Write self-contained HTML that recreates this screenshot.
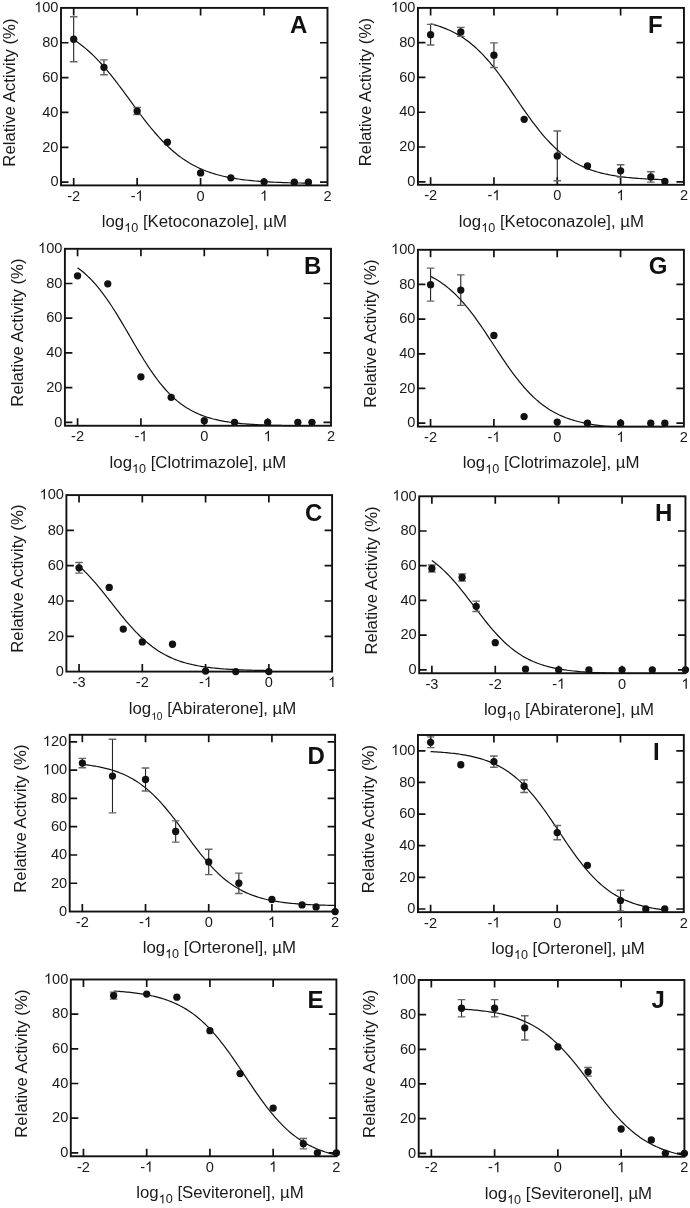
<!DOCTYPE html>
<html><head><meta charset="utf-8"><style>
html,body{margin:0;padding:0;background:#fff;}
svg{display:block;will-change:transform;}
text{font-family:"Liberation Sans",sans-serif;fill:#1a1a1a;}
.t{font-size:14.6px;}
.x{font-size:16.8px;}
.sub{font-size:12.6px;}
.sub2{font-size:10.2px;}
.y{font-size:16.8px;}
.l{font-size:24px;font-weight:bold;fill:#111;}
.g1{fill:#1a1a1a;}
</style></head><body>
<svg width="690" height="1208" viewBox="0 0 690 1208">
<rect x="61" y="7.9" width="266.5" height="177.5" fill="none" stroke="#111" stroke-width="1.9"/>
<path d="M73.69 185.4v-7.5M73.69 7.9v7.5M137.14 185.4v-7.5M137.14 7.9v7.5M200.59 185.4v-7.5M200.59 7.9v7.5M264.05 185.4v-7.5M264.05 7.9v7.5M61 182.15h7.5M327.5 182.15h-7.5M61 147.3h7.5M327.5 147.3h-7.5M61 112.45h7.5M327.5 112.45h-7.5M61 77.6h7.5M327.5 77.6h-7.5M61 42.75h7.5M327.5 42.75h-7.5" stroke="#111" stroke-width="1.7" fill="none"/>
<text x="67.2" y="200.8" class="t">-2</text>
<text x="130.65" y="200.8" class="t">- </text><path d="M763 0H583V1147Q518 1085 412.5 1023Q307 961 223 930V1104Q375 1175 489 1276Q603 1377 650 1466H763Z" transform="matrix(0.00713 0 0 -0.00713 135.51 200.80)" class="g1"/>
<text x="196.54" y="200.8" class="t">0</text>
<text x="259.99" y="200.8" class="t"> </text><path d="M763 0H583V1147Q518 1085 412.5 1023Q307 961 223 930V1104Q375 1175 489 1276Q603 1377 650 1466H763Z" transform="matrix(0.00713 0 0 -0.00713 259.99 200.80)" class="g1"/>
<text x="323.44" y="200.8" class="t">2</text>
<text x="50.38" y="186.38" class="t">0</text>
<text x="42.26" y="151.53" class="t">20</text>
<text x="42.26" y="116.68" class="t">40</text>
<text x="42.26" y="81.83" class="t">60</text>
<text x="42.26" y="46.98" class="t">80</text>
<text x="34.14" y="12.13" class="t"> 00</text><path d="M763 0H583V1147Q518 1085 412.5 1023Q307 961 223 930V1104Q375 1175 489 1276Q603 1377 650 1466H763Z" transform="matrix(0.00713 0 0 -0.00713 34.14 12.13)" class="g1"/>
<polyline points="73.69,39.72 75.65,41 77.6,42.34 79.56,43.74 81.51,45.21 83.47,46.74 85.43,48.34 87.38,50 89.34,51.72 91.29,53.52 93.25,55.38 95.21,57.3 97.16,59.3 99.12,61.35 101.07,63.47 103.03,65.65 104.98,67.89 106.94,70.19 108.9,72.54 110.85,74.94 112.81,77.39 114.76,79.89 116.72,82.42 118.68,85 120.63,87.6 122.59,90.22 124.54,92.87 126.5,95.54 128.46,98.21 130.41,100.89 132.37,103.57 134.32,106.24 136.28,108.9 138.24,111.54 140.19,114.16 142.15,116.75 144.1,119.31 146.06,121.83 148.02,124.31 149.97,126.75 151.93,129.13 153.88,131.47 155.84,133.74 157.79,135.96 159.75,138.12 161.71,140.22 163.66,142.26 165.62,144.23 167.57,146.13 169.53,147.97 171.49,149.74 173.44,151.44 175.4,153.08 177.35,154.66 179.31,156.16 181.27,157.61 183.22,158.99 185.18,160.31 187.13,161.57 189.09,162.78 191.05,163.92 193,165.02 194.96,166.05 196.91,167.04 198.87,167.98 200.83,168.87 202.78,169.71 204.74,170.51 206.69,171.27 208.65,171.98 210.6,172.66 212.56,173.3 214.52,173.91 216.47,174.48 218.43,175.02 220.38,175.53 222.34,176.01 224.3,176.47 226.25,176.9 228.21,177.3 230.16,177.68 232.12,178.04 234.08,178.38 236.03,178.69 237.99,178.99 239.94,179.27 241.9,179.54 243.86,179.79 245.81,180.02 247.77,180.24 249.72,180.45 251.68,180.64 253.63,180.82 255.59,181 257.55,181.16 259.5,181.31 261.46,181.45 263.41,181.59 265.37,181.71 267.33,181.83 269.28,181.94 271.24,182.04 273.19,182.14 275.15,182.23 277.11,182.32 279.06,182.4 281.02,182.47 282.97,182.55 284.93,182.61 286.89,182.67 288.84,182.73 290.8,182.79 292.75,182.84 294.71,182.89 296.67,182.93 298.62,182.98 300.58,183.02 302.53,183.05 304.49,183.09 306.44,183.12 308.4,183.15" fill="none" stroke="#111" stroke-width="1.2"/>
<path d="M73.69 16.79V61.74M103.96 59.91V74.72M137.14 107.57V114.54" stroke="#222" stroke-width="1.1" fill="none"/>
<path d="M69.89 16.79h7.6M69.89 61.74h7.6M100.16 59.91h7.6M100.16 74.72h7.6M133.34 107.57h7.6M133.34 114.54h7.6" stroke="#666" stroke-width="1.4" fill="none"/>
<circle cx="73.69" cy="39.27" r="3.65" fill="#111"/>
<circle cx="103.96" cy="67.32" r="3.65" fill="#111"/>
<circle cx="137.14" cy="111.06" r="3.65" fill="#111"/>
<circle cx="167.41" cy="142.25" r="3.65" fill="#111"/>
<circle cx="200.59" cy="172.91" r="3.65" fill="#111"/>
<circle cx="230.86" cy="177.79" r="3.65" fill="#111"/>
<circle cx="264.05" cy="181.8" r="3.65" fill="#111"/>
<circle cx="294.31" cy="182.15" r="3.65" fill="#111"/>
<circle cx="308.4" cy="182.15" r="3.65" fill="#111"/>
<text x="101.8" y="227" class="x">log<tspan class="sub" dy="5.0"> 0</tspan><tspan dy="-5.0"> [Ketoconazole], µM</tspan></text>
<path d="M763 0H583V1147Q518 1085 412.5 1023Q307 961 223 930V1104Q375 1175 489 1276Q603 1377 650 1466H763Z" transform="matrix(0.00615 0 0 -0.00615 124.22 232.00)" class="g1"/>
<text transform="translate(15,166.7) rotate(-90)" class="y">Relative Activity (%)</text>
<text x="290.1" y="32.8" class="l">A</text>
<rect x="64.9" y="248.8" width="266.1" height="176.95" fill="none" stroke="#111" stroke-width="1.9"/>
<path d="M77.57 425.75v-7.5M77.57 248.8v7.5M140.93 425.75v-7.5M140.93 248.8v7.5M204.29 425.75v-7.5M204.29 248.8v7.5M267.64 425.75v-7.5M267.64 248.8v7.5M64.9 422.28h7.5M331 422.28h-7.5M64.9 387.58h7.5M331 387.58h-7.5M64.9 352.89h7.5M331 352.89h-7.5M64.9 318.19h7.5M331 318.19h-7.5M64.9 283.5h7.5M331 283.5h-7.5" stroke="#111" stroke-width="1.7" fill="none"/>
<text x="71.08" y="441.15" class="t">-2</text>
<text x="134.44" y="441.15" class="t">- </text><path d="M763 0H583V1147Q518 1085 412.5 1023Q307 961 223 930V1104Q375 1175 489 1276Q603 1377 650 1466H763Z" transform="matrix(0.00713 0 0 -0.00713 139.30 441.15)" class="g1"/>
<text x="200.23" y="441.15" class="t">0</text>
<text x="263.58" y="441.15" class="t"> </text><path d="M763 0H583V1147Q518 1085 412.5 1023Q307 961 223 930V1104Q375 1175 489 1276Q603 1377 650 1466H763Z" transform="matrix(0.00713 0 0 -0.00713 263.58 441.15)" class="g1"/>
<text x="326.94" y="441.15" class="t">2</text>
<text x="54.28" y="426.51" class="t">0</text>
<text x="46.16" y="391.81" class="t">20</text>
<text x="46.16" y="357.11" class="t">40</text>
<text x="46.16" y="322.42" class="t">60</text>
<text x="46.16" y="287.72" class="t">80</text>
<text x="38.04" y="253.03" class="t"> 00</text><path d="M763 0H583V1147Q518 1085 412.5 1023Q307 961 223 930V1104Q375 1175 489 1276Q603 1377 650 1466H763Z" transform="matrix(0.00713 0 0 -0.00713 38.04 253.03)" class="g1"/>
<polyline points="77.57,267.72 79.52,269.17 81.48,270.7 83.43,272.32 85.38,274.02 87.34,275.82 89.29,277.71 91.24,279.69 93.2,281.77 95.15,283.95 97.1,286.22 99.05,288.59 101.01,291.06 102.96,293.62 104.91,296.27 106.87,299.01 108.82,301.84 110.77,304.75 112.73,307.74 114.68,310.8 116.63,313.93 118.58,317.11 120.54,320.34 122.49,323.62 124.44,326.93 126.4,330.27 128.35,333.63 130.3,336.99 132.26,340.35 134.21,343.7 136.16,347.02 138.11,350.32 140.07,353.58 142.02,356.79 143.97,359.95 145.93,363.04 147.88,366.07 149.83,369.02 151.79,371.9 153.74,374.69 155.69,377.39 157.64,379.99 159.6,382.51 161.55,384.93 163.5,387.26 165.46,389.48 167.41,391.61 169.36,393.65 171.31,395.59 173.27,397.43 175.22,399.19 177.17,400.85 179.13,402.43 181.08,403.92 183.03,405.33 184.99,406.66 186.94,407.92 188.89,409.1 190.84,410.21 192.8,411.26 194.75,412.24 196.7,413.16 198.66,414.03 200.61,414.84 202.56,415.6 204.52,416.31 206.47,416.97 208.42,417.59 210.37,418.17 212.33,418.72 214.28,419.22 216.23,419.69 218.19,420.14 220.14,420.55 222.09,420.93 224.05,421.29 226,421.62 227.95,421.93 229.9,422.22 231.86,422.48 233.81,422.73 235.76,422.97 237.72,423.18 239.67,423.38 241.62,423.57 243.58,423.74 245.53,423.9 247.48,424.06 249.43,424.19 251.39,424.32 253.34,424.44 255.29,424.56 257.25,424.66 259.2,424.76 261.15,424.85 263.11,424.93 265.06,425.01 267.01,425.08 268.96,425.15 270.92,425.21 272.87,425.27 274.82,425.32 276.78,425.37 278.73,425.41 280.68,425.46 282.63,425.5 284.59,425.53 286.54,425.57 288.49,425.6 290.45,425.63 292.4,425.66 294.35,425.68 296.31,425.7 298.26,425.73 300.21,425.75 302.16,425.75 304.12,425.75 306.07,425.75 308.02,425.75 309.98,425.75 311.93,425.75" fill="none" stroke="#111" stroke-width="1.2"/>
<circle cx="77.57" cy="275.86" r="3.65" fill="#111"/>
<circle cx="107.79" cy="283.84" r="3.65" fill="#111"/>
<circle cx="140.93" cy="376.83" r="3.65" fill="#111"/>
<circle cx="171.15" cy="397.3" r="3.65" fill="#111"/>
<circle cx="204.29" cy="420.72" r="3.65" fill="#111"/>
<circle cx="234.51" cy="422.28" r="3.65" fill="#111"/>
<circle cx="267.64" cy="422.28" r="3.65" fill="#111"/>
<circle cx="297.86" cy="422.28" r="3.65" fill="#111"/>
<circle cx="311.93" cy="422.28" r="3.65" fill="#111"/>
<text x="109.6" y="467.9" class="x">log<tspan class="sub" dy="5.0"> 0</tspan><tspan dy="-5.0"> [Clotrimazole], µM</tspan></text>
<path d="M763 0H583V1147Q518 1085 412.5 1023Q307 961 223 930V1104Q375 1175 489 1276Q603 1377 650 1466H763Z" transform="matrix(0.00615 0 0 -0.00615 132.02 472.90)" class="g1"/>
<text transform="translate(22.9,406.7) rotate(-90)" class="y">Relative Activity (%)</text>
<text x="304.1" y="274.2" class="l">B</text>
<rect x="66.4" y="495.1" width="265.7" height="176.5" fill="none" stroke="#111" stroke-width="1.9"/>
<path d="M79.05 671.6v-7.5M79.05 495.1v7.5M142.31 671.6v-7.5M142.31 495.1v7.5M205.58 671.6v-7.5M205.58 495.1v7.5M268.84 671.6v-7.5M268.84 495.1v7.5M66.4 636.3h7.5M332.1 636.3h-7.5M66.4 601h7.5M332.1 601h-7.5M66.4 565.7h7.5M332.1 565.7h-7.5M66.4 530.4h7.5M332.1 530.4h-7.5" stroke="#111" stroke-width="1.7" fill="none"/>
<text x="72.56" y="687" class="t">-3</text>
<text x="135.82" y="687" class="t">-2</text>
<text x="199.09" y="687" class="t">- </text><path d="M763 0H583V1147Q518 1085 412.5 1023Q307 961 223 930V1104Q375 1175 489 1276Q603 1377 650 1466H763Z" transform="matrix(0.00713 0 0 -0.00713 203.95 687.00)" class="g1"/>
<text x="264.78" y="687" class="t">0</text>
<text x="328.04" y="687" class="t"> </text><path d="M763 0H583V1147Q518 1085 412.5 1023Q307 961 223 930V1104Q375 1175 489 1276Q603 1377 650 1466H763Z" transform="matrix(0.00713 0 0 -0.00713 328.04 687.00)" class="g1"/>
<text x="55.78" y="675.83" class="t">0</text>
<text x="47.66" y="640.53" class="t">20</text>
<text x="47.66" y="605.23" class="t">40</text>
<text x="47.66" y="569.93" class="t">60</text>
<text x="47.66" y="534.63" class="t">80</text>
<text x="39.54" y="499.33" class="t"> 00</text><path d="M763 0H583V1147Q518 1085 412.5 1023Q307 961 223 930V1104Q375 1175 489 1276Q603 1377 650 1466H763Z" transform="matrix(0.00713 0 0 -0.00713 39.54 499.33)" class="g1"/>
<polyline points="79.05,566.05 80.63,567.49 82.22,568.97 83.8,570.51 85.38,572.08 86.96,573.7 88.54,575.36 90.12,577.06 91.7,578.8 93.29,580.58 94.87,582.39 96.45,584.23 98.03,586.11 99.61,588.01 101.19,589.94 102.78,591.89 104.36,593.86 105.94,595.84 107.52,597.84 109.1,599.85 110.68,601.86 112.26,603.87 113.85,605.88 115.43,607.89 117.01,609.89 118.59,611.88 120.17,613.85 121.75,615.8 123.34,617.73 124.92,619.64 126.5,621.52 128.08,623.36 129.66,625.18 131.24,626.96 132.82,628.71 134.41,630.41 135.99,632.08 137.57,633.7 139.15,635.28 140.73,636.82 142.31,638.31 143.9,639.76 145.48,641.16 147.06,642.51 148.64,643.82 150.22,645.08 151.8,646.3 153.39,647.47 154.97,648.6 156.55,649.69 158.13,650.73 159.71,651.72 161.29,652.68 162.87,653.6 164.46,654.47 166.04,655.31 167.62,656.11 169.2,656.88 170.78,657.61 172.36,658.3 173.95,658.96 175.53,659.59 177.11,660.19 178.69,660.77 180.27,661.31 181.85,661.82 183.43,662.31 185.02,662.78 186.6,663.22 188.18,663.64 189.76,664.04 191.34,664.42 192.92,664.77 194.51,665.11 196.09,665.43 197.67,665.74 199.25,666.02 200.83,666.3 202.41,666.55 203.99,666.8 205.58,667.03 207.16,667.25 208.74,667.45 210.32,667.65 211.9,667.83 213.48,668 215.07,668.17 216.65,668.32 218.23,668.47 219.81,668.61 221.39,668.74 222.97,668.86 224.55,668.98 226.14,669.09 227.72,669.19 229.3,669.29 230.88,669.38 232.46,669.47 234.04,669.55 235.63,669.63 237.21,669.7 238.79,669.77 240.37,669.84 241.95,669.9 243.53,669.96 245.11,670.01 246.7,670.07 248.28,670.11 249.86,670.16 251.44,670.2 253.02,670.24 254.6,670.28 256.19,670.32 257.77,670.35 259.35,670.39 260.93,670.42 262.51,670.44 264.09,670.47 265.67,670.5 267.26,670.52 268.84,670.54" fill="none" stroke="#111" stroke-width="1.2"/>
<path d="M79.05 562.52V573.11" stroke="#222" stroke-width="1.1" fill="none"/>
<path d="M75.25 562.52h7.6M75.25 573.11h7.6" stroke="#666" stroke-width="1.4" fill="none"/>
<circle cx="79.05" cy="567.82" r="3.65" fill="#111"/>
<circle cx="109.23" cy="587.41" r="3.65" fill="#111"/>
<circle cx="123.27" cy="629.06" r="3.65" fill="#111"/>
<circle cx="142.31" cy="641.95" r="3.65" fill="#111"/>
<circle cx="172.49" cy="644.24" r="3.65" fill="#111"/>
<circle cx="205.58" cy="671.07" r="3.65" fill="#111"/>
<circle cx="235.75" cy="671.6" r="3.65" fill="#111"/>
<circle cx="268.84" cy="671.6" r="3.65" fill="#111"/>
<text x="128.8" y="713.5" class="x">log<tspan class="sub2" dy="6.3"> 0</tspan><tspan dy="-6.3"> [Abiraterone], µM</tspan></text>
<path d="M763 0H583V1147Q518 1085 412.5 1023Q307 961 223 930V1104Q375 1175 489 1276Q603 1377 650 1466H763Z" transform="matrix(0.00498 0 0 -0.00498 151.22 719.80)" class="g1"/>
<text transform="translate(23.1,652.8) rotate(-90)" class="y">Relative Activity (%)</text>
<text x="305.1" y="520.8" class="l">C</text>
<rect x="69.7" y="734.8" width="265.4" height="176.75" fill="none" stroke="#111" stroke-width="1.9"/>
<path d="M82.34 911.55v-7.5M82.34 734.8v7.5M145.53 911.55v-7.5M145.53 734.8v7.5M208.72 911.55v-7.5M208.72 734.8v7.5M271.91 911.55v-7.5M271.91 734.8v7.5M69.7 883.27h7.5M335.1 883.27h-7.5M69.7 854.99h7.5M335.1 854.99h-7.5M69.7 826.71h7.5M335.1 826.71h-7.5M69.7 798.43h7.5M335.1 798.43h-7.5M69.7 770.15h7.5M335.1 770.15h-7.5M69.7 741.87h7.5M335.1 741.87h-7.5" stroke="#111" stroke-width="1.7" fill="none"/>
<text x="75.85" y="926.95" class="t">-2</text>
<text x="139.04" y="926.95" class="t">- </text><path d="M763 0H583V1147Q518 1085 412.5 1023Q307 961 223 930V1104Q375 1175 489 1276Q603 1377 650 1466H763Z" transform="matrix(0.00713 0 0 -0.00713 143.90 926.95)" class="g1"/>
<text x="204.66" y="926.95" class="t">0</text>
<text x="267.85" y="926.95" class="t"> </text><path d="M763 0H583V1147Q518 1085 412.5 1023Q307 961 223 930V1104Q375 1175 489 1276Q603 1377 650 1466H763Z" transform="matrix(0.00713 0 0 -0.00713 267.85 926.95)" class="g1"/>
<text x="331.04" y="926.95" class="t">2</text>
<text x="59.08" y="915.78" class="t">0</text>
<text x="50.96" y="887.5" class="t">20</text>
<text x="50.96" y="859.22" class="t">40</text>
<text x="50.96" y="830.94" class="t">60</text>
<text x="50.96" y="802.66" class="t">80</text>
<text x="42.84" y="774.38" class="t"> 00</text><path d="M763 0H583V1147Q518 1085 412.5 1023Q307 961 223 930V1104Q375 1175 489 1276Q603 1377 650 1466H763Z" transform="matrix(0.00713 0 0 -0.00713 42.84 774.38)" class="g1"/>
<text x="42.84" y="746.1" class="t"> 20</text><path d="M763 0H583V1147Q518 1085 412.5 1023Q307 961 223 930V1104Q375 1175 489 1276Q603 1377 650 1466H763Z" transform="matrix(0.00713 0 0 -0.00713 42.84 746.10)" class="g1"/>
<polyline points="82.34,764.41 84.44,764.65 86.55,764.9 88.66,765.18 90.76,765.47 92.87,765.79 94.98,766.14 97.08,766.51 99.19,766.91 101.3,767.34 103.4,767.8 105.51,768.3 107.61,768.83 109.72,769.41 111.83,770.02 113.93,770.68 116.04,771.39 118.15,772.15 120.25,772.96 122.36,773.82 124.46,774.75 126.57,775.74 128.68,776.79 130.78,777.91 132.89,779.1 135,780.36 137.1,781.7 139.21,783.12 141.32,784.62 143.42,786.2 145.53,787.87 147.63,789.62 149.74,791.46 151.85,793.39 153.95,795.4 156.06,797.5 158.17,799.69 160.27,801.96 162.38,804.31 164.49,806.74 166.59,809.24 168.7,811.81 170.8,814.44 172.91,817.12 175.02,819.86 177.12,822.64 179.23,825.45 181.34,828.29 183.44,831.14 185.55,834 187.66,836.87 189.76,839.72 191.87,842.55 193.97,845.36 196.08,848.13 198.19,850.85 200.29,853.53 202.4,856.15 204.51,858.7 206.61,861.19 208.72,863.6 210.83,865.94 212.93,868.19 215.04,870.36 217.14,872.44 219.25,874.44 221.36,876.35 223.46,878.17 225.57,879.91 227.68,881.56 229.78,883.12 231.89,884.61 234,886.01 236.1,887.33 238.21,888.58 240.31,889.76 242.42,890.86 244.53,891.9 246.63,892.88 248.74,893.79 250.85,894.64 252.95,895.44 255.06,896.19 257.17,896.89 259.27,897.54 261.38,898.15 263.48,898.71 265.59,899.24 267.7,899.73 269.8,900.18 271.91,900.61 274.02,901 276.12,901.37 278.23,901.71 280.33,902.02 282.44,902.31 284.55,902.59 286.65,902.84 288.76,903.07 290.87,903.29 292.97,903.49 295.08,903.67 297.19,903.84 299.29,904 301.4,904.15 303.5,904.28 305.61,904.41 307.72,904.53 309.82,904.64 311.93,904.74 314.04,904.83 316.14,904.91 318.25,904.99 320.36,905.07 322.46,905.13 324.57,905.2 326.67,905.25 328.78,905.31 330.89,905.36 332.99,905.4 335.1,905.44" fill="none" stroke="#111" stroke-width="1.2"/>
<path d="M82.34 758.41V767.75M112.48 739.32V812.85M145.53 768.03V790.94M175.67 820.91V842.12M208.72 849.19V874.64M238.86 873.09V893.45" stroke="#222" stroke-width="1.1" fill="none"/>
<path d="M78.54 758.41h7.6M78.54 767.75h7.6M108.68 739.32h7.6M108.68 812.85h7.6M141.73 768.03h7.6M141.73 790.94h7.6M171.87 820.91h7.6M171.87 842.12h7.6M204.92 849.19h7.6M204.92 874.64h7.6M235.06 873.09h7.6M235.06 893.45h7.6" stroke="#666" stroke-width="1.4" fill="none"/>
<circle cx="82.34" cy="763.08" r="3.65" fill="#111"/>
<circle cx="112.48" cy="776.09" r="3.65" fill="#111"/>
<circle cx="145.53" cy="779.48" r="3.65" fill="#111"/>
<circle cx="175.67" cy="831.52" r="3.65" fill="#111"/>
<circle cx="208.72" cy="861.92" r="3.65" fill="#111"/>
<circle cx="238.86" cy="883.27" r="3.65" fill="#111"/>
<circle cx="271.91" cy="899.39" r="3.65" fill="#111"/>
<circle cx="302.05" cy="904.9" r="3.65" fill="#111"/>
<circle cx="316.08" cy="906.95" r="3.65" fill="#111"/>
<circle cx="335.1" cy="911.55" r="3.65" fill="#111"/>
<text x="142.7" y="953.2" class="x">log<tspan class="sub" dy="5.0"> 0</tspan><tspan dy="-5.0"> [Orteronel], µM</tspan></text>
<path d="M763 0H583V1147Q518 1085 412.5 1023Q307 961 223 930V1104Q375 1175 489 1276Q603 1377 650 1466H763Z" transform="matrix(0.00615 0 0 -0.00615 165.12 958.20)" class="g1"/>
<text transform="translate(26,892.8) rotate(-90)" class="y">Relative Activity (%)</text>
<text x="307.4" y="763.7" class="l">D</text>
<rect x="70.8" y="979.5" width="265.6" height="176.8" fill="none" stroke="#111" stroke-width="1.9"/>
<path d="M83.45 1156.3v-7.5M83.45 979.5v7.5M146.69 1156.3v-7.5M146.69 979.5v7.5M209.92 1156.3v-7.5M209.92 979.5v7.5M273.16 1156.3v-7.5M273.16 979.5v7.5M70.8 1152.83h7.5M336.4 1152.83h-7.5M70.8 1118.17h7.5M336.4 1118.17h-7.5M70.8 1083.5h7.5M336.4 1083.5h-7.5M70.8 1048.83h7.5M336.4 1048.83h-7.5M70.8 1014.17h7.5M336.4 1014.17h-7.5" stroke="#111" stroke-width="1.7" fill="none"/>
<text x="76.96" y="1171.7" class="t">-2</text>
<text x="140.2" y="1171.7" class="t">- </text><path d="M763 0H583V1147Q518 1085 412.5 1023Q307 961 223 930V1104Q375 1175 489 1276Q603 1377 650 1466H763Z" transform="matrix(0.00713 0 0 -0.00713 145.06 1171.70)" class="g1"/>
<text x="205.86" y="1171.7" class="t">0</text>
<text x="269.1" y="1171.7" class="t"> </text><path d="M763 0H583V1147Q518 1085 412.5 1023Q307 961 223 930V1104Q375 1175 489 1276Q603 1377 650 1466H763Z" transform="matrix(0.00713 0 0 -0.00713 269.10 1171.70)" class="g1"/>
<text x="332.34" y="1171.7" class="t">2</text>
<text x="60.18" y="1157.06" class="t">0</text>
<text x="52.06" y="1122.39" class="t">20</text>
<text x="52.06" y="1087.73" class="t">40</text>
<text x="52.06" y="1053.06" class="t">60</text>
<text x="52.06" y="1018.39" class="t">80</text>
<text x="43.94" y="983.73" class="t"> 00</text><path d="M763 0H583V1147Q518 1085 412.5 1023Q307 961 223 930V1104Q375 1175 489 1276Q603 1377 650 1466H763Z" transform="matrix(0.00713 0 0 -0.00713 43.94 983.73)" class="g1"/>
<polyline points="113.61,991.02 115.47,991.14 117.33,991.26 119.18,991.4 121.04,991.54 122.9,991.69 124.75,991.86 126.61,992.03 128.46,992.21 130.32,992.41 132.18,992.62 134.03,992.84 135.89,993.08 137.75,993.33 139.6,993.59 141.46,993.88 143.32,994.18 145.17,994.5 147.03,994.84 148.89,995.2 150.74,995.58 152.6,995.99 154.46,996.42 156.31,996.88 158.17,997.37 160.03,997.88 161.88,998.43 163.74,999.01 165.6,999.62 167.45,1000.27 169.31,1000.96 171.17,1001.68 173.02,1002.45 174.88,1003.26 176.74,1004.11 178.59,1005.01 180.45,1005.96 182.31,1006.96 184.16,1008.02 186.02,1009.12 187.87,1010.29 189.73,1011.51 191.59,1012.79 193.44,1014.13 195.3,1015.54 197.16,1017.01 199.01,1018.55 200.87,1020.15 202.73,1021.82 204.58,1023.56 206.44,1025.36 208.3,1027.24 210.15,1029.19 212.01,1031.2 213.87,1033.28 215.72,1035.43 217.58,1037.64 219.44,1039.92 221.29,1042.26 223.15,1044.66 225.01,1047.11 226.86,1049.62 228.72,1052.17 230.58,1054.77 232.43,1057.41 234.29,1060.09 236.15,1062.8 238,1065.53 239.86,1068.28 241.72,1071.05 243.57,1073.83 245.43,1076.61 247.29,1079.39 249.14,1082.16 251,1084.92 252.85,1087.66 254.71,1090.37 256.57,1093.06 258.42,1095.71 260.28,1098.32 262.14,1100.88 263.99,1103.4 265.85,1105.87 267.71,1108.28 269.56,1110.63 271.42,1112.92 273.28,1115.15 275.13,1117.32 276.99,1119.42 278.85,1121.45 280.7,1123.41 282.56,1125.3 284.42,1127.13 286.27,1128.88 288.13,1130.57 289.99,1132.19 291.84,1133.74 293.7,1135.22 295.56,1136.64 297.41,1138 299.27,1139.3 301.13,1140.53 302.98,1141.71 304.84,1142.83 306.7,1143.9 308.55,1144.91 310.41,1145.87 312.26,1146.79 314.12,1147.65 315.98,1148.47 317.83,1149.25 319.69,1149.98 321.55,1150.68 323.4,1151.33 325.26,1151.96 327.12,1152.54 328.97,1153.1 330.83,1153.62 332.69,1154.11 334.54,1154.58 336.4,1155.02" fill="none" stroke="#111" stroke-width="1.2"/>
<path d="M113.61 992.15V999.09M303.33 1138.45V1148.85" stroke="#222" stroke-width="1.1" fill="none"/>
<path d="M109.81 992.15h7.6M109.81 999.09h7.6M299.53 1138.45h7.6M299.53 1148.85h7.6" stroke="#666" stroke-width="1.4" fill="none"/>
<circle cx="113.61" cy="995.62" r="3.65" fill="#111"/>
<circle cx="146.69" cy="994.06" r="3.65" fill="#111"/>
<circle cx="176.85" cy="997.18" r="3.65" fill="#111"/>
<circle cx="209.92" cy="1030.63" r="3.65" fill="#111"/>
<circle cx="240.09" cy="1073.62" r="3.65" fill="#111"/>
<circle cx="273.16" cy="1108.11" r="3.65" fill="#111"/>
<circle cx="303.33" cy="1143.65" r="3.65" fill="#111"/>
<circle cx="317.37" cy="1152.83" r="3.65" fill="#111"/>
<circle cx="336.4" cy="1152.83" r="3.65" fill="#111"/>
<text x="136.3" y="1198.4" class="x">log<tspan class="sub" dy="5.0"> 0</tspan><tspan dy="-5.0"> [Seviteronel], µM</tspan></text>
<path d="M763 0H583V1147Q518 1085 412.5 1023Q307 961 223 930V1104Q375 1175 489 1276Q603 1377 650 1466H763Z" transform="matrix(0.00615 0 0 -0.00615 158.72 1203.40)" class="g1"/>
<text transform="translate(27,1137.8) rotate(-90)" class="y">Relative Activity (%)</text>
<text x="307.6" y="1008.3" class="l">E</text>
<rect x="417.95" y="7.9" width="266" height="176.9" fill="none" stroke="#111" stroke-width="1.9"/>
<path d="M430.62 184.8v-7.5M430.62 7.9v7.5M493.95 184.8v-7.5M493.95 7.9v7.5M557.28 184.8v-7.5M557.28 7.9v7.5M620.62 184.8v-7.5M620.62 7.9v7.5M417.95 181.8h7.5M683.95 181.8h-7.5M417.95 147.02h7.5M683.95 147.02h-7.5M417.95 112.24h7.5M683.95 112.24h-7.5M417.95 77.46h7.5M683.95 77.46h-7.5M417.95 42.68h7.5M683.95 42.68h-7.5" stroke="#111" stroke-width="1.7" fill="none"/>
<text x="424.13" y="200.2" class="t">-2</text>
<text x="487.46" y="200.2" class="t">- </text><path d="M763 0H583V1147Q518 1085 412.5 1023Q307 961 223 930V1104Q375 1175 489 1276Q603 1377 650 1466H763Z" transform="matrix(0.00713 0 0 -0.00713 492.32 200.20)" class="g1"/>
<text x="553.22" y="200.2" class="t">0</text>
<text x="616.56" y="200.2" class="t"> </text><path d="M763 0H583V1147Q518 1085 412.5 1023Q307 961 223 930V1104Q375 1175 489 1276Q603 1377 650 1466H763Z" transform="matrix(0.00713 0 0 -0.00713 616.56 200.20)" class="g1"/>
<text x="679.89" y="200.2" class="t">2</text>
<text x="407.33" y="186.03" class="t">0</text>
<text x="399.21" y="151.25" class="t">20</text>
<text x="399.21" y="116.47" class="t">40</text>
<text x="399.21" y="81.69" class="t">60</text>
<text x="399.21" y="46.91" class="t">80</text>
<text x="391.09" y="12.13" class="t"> 00</text><path d="M763 0H583V1147Q518 1085 412.5 1023Q307 961 223 930V1104Q375 1175 489 1276Q603 1377 650 1466H763Z" transform="matrix(0.00713 0 0 -0.00713 391.09 12.13)" class="g1"/>
<polyline points="430.62,23.76 432.57,24.26 434.52,24.8 436.47,25.38 438.43,25.99 440.38,26.64 442.33,27.34 444.28,28.07 446.23,28.85 448.19,29.68 450.14,30.56 452.09,31.49 454.04,32.48 456,33.52 457.95,34.62 459.9,35.78 461.85,37.01 463.8,38.3 465.76,39.66 467.71,41.09 469.66,42.59 471.61,44.16 473.57,45.81 475.52,47.53 477.47,49.33 479.42,51.21 481.37,53.16 483.33,55.19 485.28,57.3 487.23,59.48 489.18,61.73 491.14,64.06 493.09,66.45 495.04,68.91 496.99,71.43 498.95,74.01 500.9,76.65 502.85,79.33 504.8,82.06 506.75,84.83 508.71,87.63 510.66,90.45 512.61,93.3 514.56,96.15 516.52,99.01 518.47,101.87 520.42,104.73 522.37,107.56 524.32,110.38 526.28,113.16 528.23,115.92 530.18,118.63 532.13,121.29 534.09,123.91 536.04,126.46 537.99,128.96 539.94,131.39 541.89,133.76 543.85,136.06 545.8,138.28 547.75,140.43 549.7,142.51 551.66,144.5 553.61,146.43 555.56,148.27 557.51,150.04 559.46,151.73 561.42,153.35 563.37,154.89 565.32,156.36 567.27,157.76 569.23,159.09 571.18,160.36 573.13,161.56 575.08,162.7 577.04,163.77 578.99,164.79 580.94,165.75 582.89,166.66 584.84,167.52 586.8,168.33 588.75,169.09 590.7,169.81 592.65,170.48 594.61,171.12 596.56,171.72 598.51,172.28 600.46,172.8 602.41,173.3 604.37,173.76 606.32,174.2 608.27,174.61 610.22,174.99 612.18,175.35 614.13,175.68 616.08,176 618.03,176.29 619.98,176.57 621.94,176.83 623.89,177.07 625.84,177.29 627.79,177.5 629.75,177.7 631.7,177.89 633.65,178.06 635.6,178.22 637.55,178.37 639.51,178.51 641.46,178.64 643.41,178.76 645.36,178.88 647.32,178.99 649.27,179.09 651.22,179.18 653.17,179.27 655.13,179.35 657.08,179.42 659.03,179.49 660.98,179.56 662.93,179.62 664.89,179.68" fill="none" stroke="#111" stroke-width="1.2"/>
<path d="M430.62 24.33V45.03M460.83 27.38V36.42M493.95 42.85V67.55M557.28 131.02V180.76M620.62 164.76V176.93M650.83 171.71V182.15" stroke="#222" stroke-width="1.1" fill="none"/>
<path d="M426.82 24.33h7.6M426.82 45.03h7.6M457.03 27.38h7.6M457.03 36.42h7.6M490.15 42.85h7.6M490.15 67.55h7.6M553.48 131.02h7.6M553.48 180.76h7.6M616.82 164.76h7.6M616.82 176.93h7.6M647.03 171.71h7.6M647.03 182.15h7.6" stroke="#666" stroke-width="1.4" fill="none"/>
<circle cx="430.62" cy="34.68" r="3.65" fill="#111"/>
<circle cx="460.83" cy="31.9" r="3.65" fill="#111"/>
<circle cx="493.95" cy="55.2" r="3.65" fill="#111"/>
<circle cx="524.16" cy="119.37" r="3.65" fill="#111"/>
<circle cx="557.28" cy="155.89" r="3.65" fill="#111"/>
<circle cx="587.49" cy="165.98" r="3.65" fill="#111"/>
<circle cx="620.62" cy="170.84" r="3.65" fill="#111"/>
<circle cx="650.83" cy="176.93" r="3.65" fill="#111"/>
<circle cx="664.89" cy="181.45" r="3.65" fill="#111"/>
<text x="458.8" y="227" class="x">log<tspan class="sub" dy="5.0"> 0</tspan><tspan dy="-5.0"> [Ketoconazole], µM</tspan></text>
<path d="M763 0H583V1147Q518 1085 412.5 1023Q307 961 223 930V1104Q375 1175 489 1276Q603 1377 650 1466H763Z" transform="matrix(0.00615 0 0 -0.00615 481.22 232.00)" class="g1"/>
<text transform="translate(371,166.3) rotate(-90)" class="y">Relative Activity (%)</text>
<text x="648" y="33" class="l">F</text>
<rect x="417.9" y="249.8" width="266" height="176.8" fill="none" stroke="#111" stroke-width="1.9"/>
<path d="M430.57 426.6v-7.5M430.57 249.8v7.5M493.9 426.6v-7.5M493.9 249.8v7.5M557.23 426.6v-7.5M557.23 249.8v7.5M620.57 426.6v-7.5M620.57 249.8v7.5M417.9 423.13h7.5M683.9 423.13h-7.5M417.9 388.47h7.5M683.9 388.47h-7.5M417.9 353.8h7.5M683.9 353.8h-7.5M417.9 319.13h7.5M683.9 319.13h-7.5M417.9 284.47h7.5M683.9 284.47h-7.5" stroke="#111" stroke-width="1.7" fill="none"/>
<text x="424.08" y="442" class="t">-2</text>
<text x="487.41" y="442" class="t">- </text><path d="M763 0H583V1147Q518 1085 412.5 1023Q307 961 223 930V1104Q375 1175 489 1276Q603 1377 650 1466H763Z" transform="matrix(0.00713 0 0 -0.00713 492.27 442.00)" class="g1"/>
<text x="553.17" y="442" class="t">0</text>
<text x="616.51" y="442" class="t"> </text><path d="M763 0H583V1147Q518 1085 412.5 1023Q307 961 223 930V1104Q375 1175 489 1276Q603 1377 650 1466H763Z" transform="matrix(0.00713 0 0 -0.00713 616.51 442.00)" class="g1"/>
<text x="679.84" y="442" class="t">2</text>
<text x="407.28" y="427.36" class="t">0</text>
<text x="399.16" y="392.69" class="t">20</text>
<text x="399.16" y="358.03" class="t">40</text>
<text x="399.16" y="323.36" class="t">60</text>
<text x="399.16" y="288.69" class="t">80</text>
<text x="391.04" y="254.03" class="t"> 00</text><path d="M763 0H583V1147Q518 1085 412.5 1023Q307 961 223 930V1104Q375 1175 489 1276Q603 1377 650 1466H763Z" transform="matrix(0.00713 0 0 -0.00713 391.04 254.03)" class="g1"/>
<polyline points="430.57,276.37 432.52,277.38 434.47,278.46 436.42,279.6 438.38,280.8 440.33,282.08 442.28,283.42 444.23,284.83 446.18,286.32 448.14,287.88 450.09,289.52 452.04,291.24 453.99,293.04 455.95,294.93 457.9,296.89 459.85,298.93 461.8,301.06 463.75,303.27 465.71,305.55 467.66,307.92 469.61,310.36 471.56,312.87 473.52,315.46 475.47,318.1 477.42,320.81 479.37,323.58 481.32,326.4 483.28,329.26 485.23,332.16 487.18,335.09 489.13,338.05 491.09,341.02 493.04,344 494.99,346.99 496.94,349.97 498.9,352.94 500.85,355.89 502.8,358.81 504.75,361.7 506.7,364.55 508.66,367.35 510.61,370.1 512.56,372.79 514.51,375.42 516.47,377.98 518.42,380.47 520.37,382.89 522.32,385.23 524.27,387.49 526.23,389.68 528.18,391.78 530.13,393.8 532.08,395.73 534.04,397.59 535.99,399.37 537.94,401.06 539.89,402.68 541.84,404.22 543.8,405.68 545.75,407.07 547.7,408.39 549.65,409.64 551.61,410.83 553.56,411.95 555.51,413 557.46,414 559.41,414.94 561.37,415.83 563.32,416.67 565.27,417.45 567.22,418.19 569.18,418.89 571.13,419.54 573.08,420.15 575.03,420.73 576.99,421.27 578.94,421.77 580.89,422.25 582.84,422.69 584.79,423.11 586.75,423.5 588.7,423.86 590.65,424.2 592.6,424.52 594.56,424.82 596.51,425.09 598.46,425.35 600.41,425.6 602.36,425.82 604.32,426.03 606.27,426.23 608.22,426.42 610.17,426.59 612.13,426.6 614.08,426.6 616.03,426.6 617.98,426.6 619.93,426.6 621.89,426.6 623.84,426.6 625.79,426.6 627.74,426.6 629.7,426.6 631.65,426.6 633.6,426.6 635.55,426.6 637.5,426.6 639.46,426.6 641.41,426.6 643.36,426.6 645.31,426.6 647.27,426.6 649.22,426.6 651.17,426.6 653.12,426.6 655.08,426.6 657.03,426.6 658.98,426.6 660.93,426.6 662.88,426.6 664.84,426.6" fill="none" stroke="#111" stroke-width="1.2"/>
<path d="M430.57 268.17V301.11M460.78 274.85V305.35" stroke="#222" stroke-width="1.1" fill="none"/>
<path d="M426.77 268.17h7.6M426.77 301.11h7.6M456.98 274.85h7.6M456.98 305.35h7.6" stroke="#666" stroke-width="1.4" fill="none"/>
<circle cx="430.57" cy="284.64" r="3.65" fill="#111"/>
<circle cx="460.78" cy="290.1" r="3.65" fill="#111"/>
<circle cx="493.9" cy="335.43" r="3.65" fill="#111"/>
<circle cx="524.11" cy="416.55" r="3.65" fill="#111"/>
<circle cx="557.23" cy="422.09" r="3.65" fill="#111"/>
<circle cx="587.44" cy="423.13" r="3.65" fill="#111"/>
<circle cx="620.57" cy="423.13" r="3.65" fill="#111"/>
<circle cx="650.78" cy="423.13" r="3.65" fill="#111"/>
<circle cx="664.84" cy="423.13" r="3.65" fill="#111"/>
<text x="462.8" y="468.4" class="x">log<tspan class="sub" dy="5.0"> 0</tspan><tspan dy="-5.0"> [Clotrimazole], µM</tspan></text>
<path d="M763 0H583V1147Q518 1085 412.5 1023Q307 961 223 930V1104Q375 1175 489 1276Q603 1377 650 1466H763Z" transform="matrix(0.00615 0 0 -0.00615 485.22 473.40)" class="g1"/>
<text transform="translate(375.9,407.8) rotate(-90)" class="y">Relative Activity (%)</text>
<text x="648.7" y="274.2" class="l">G</text>
<rect x="419.2" y="496.3" width="266.25" height="176.95" fill="none" stroke="#111" stroke-width="1.9"/>
<path d="M431.88 673.25v-7.5M431.88 496.3v7.5M495.27 673.25v-7.5M495.27 496.3v7.5M558.66 673.25v-7.5M558.66 496.3v7.5M622.06 673.25v-7.5M622.06 496.3v7.5M419.2 669.78h7.5M685.45 669.78h-7.5M419.2 635.08h7.5M685.45 635.08h-7.5M419.2 600.39h7.5M685.45 600.39h-7.5M419.2 565.69h7.5M685.45 565.69h-7.5M419.2 531h7.5M685.45 531h-7.5" stroke="#111" stroke-width="1.7" fill="none"/>
<text x="425.39" y="688.65" class="t">-3</text>
<text x="488.78" y="688.65" class="t">-2</text>
<text x="552.17" y="688.65" class="t">- </text><path d="M763 0H583V1147Q518 1085 412.5 1023Q307 961 223 930V1104Q375 1175 489 1276Q603 1377 650 1466H763Z" transform="matrix(0.00713 0 0 -0.00713 557.04 688.65)" class="g1"/>
<text x="618" y="688.65" class="t">0</text>
<text x="681.39" y="688.65" class="t"> </text><path d="M763 0H583V1147Q518 1085 412.5 1023Q307 961 223 930V1104Q375 1175 489 1276Q603 1377 650 1466H763Z" transform="matrix(0.00713 0 0 -0.00713 681.39 688.65)" class="g1"/>
<text x="408.58" y="674.01" class="t">0</text>
<text x="400.46" y="639.31" class="t">20</text>
<text x="400.46" y="604.61" class="t">40</text>
<text x="400.46" y="569.92" class="t">60</text>
<text x="400.46" y="535.22" class="t">80</text>
<text x="392.34" y="500.53" class="t"> 00</text><path d="M763 0H583V1147Q518 1085 412.5 1023Q307 961 223 930V1104Q375 1175 489 1276Q603 1377 650 1466H763Z" transform="matrix(0.00713 0 0 -0.00713 392.34 500.53)" class="g1"/>
<polyline points="431.88,560.46 433.99,562.03 436.1,563.68 438.22,565.42 440.33,567.24 442.44,569.16 444.56,571.16 446.67,573.24 448.78,575.42 450.9,577.67 453.01,580 455.12,582.41 457.24,584.89 459.35,587.43 461.46,590.03 463.57,592.68 465.69,595.38 467.8,598.11 469.91,600.86 472.03,603.63 474.14,606.42 476.25,609.19 478.37,611.96 480.48,614.71 482.59,617.43 484.71,620.12 486.82,622.75 488.93,625.34 491.05,627.86 493.16,630.32 495.27,632.71 497.38,635.02 499.5,637.25 501.61,639.4 503.72,641.46 505.84,643.44 507.95,645.33 510.06,647.13 512.18,648.85 514.29,650.47 516.4,652.02 518.52,653.47 520.63,654.85 522.74,656.15 524.85,657.37 526.97,658.52 529.08,659.59 531.19,660.6 533.31,661.55 535.42,662.43 537.53,663.25 539.65,664.02 541.76,664.74 543.87,665.41 545.99,666.03 548.1,666.61 550.21,667.15 552.32,667.64 554.44,668.11 556.55,668.54 558.66,668.93 560.78,669.3 562.89,669.64 565,669.96 567.12,670.25 569.23,670.52 571.34,670.77 573.46,671.01 575.57,671.22 577.68,671.42 579.8,671.6 581.91,671.77 584.02,671.92 586.13,672.07 588.25,672.2 590.36,672.32 592.47,672.44 594.59,672.54 596.7,672.64 598.81,672.72 600.93,672.81 603.04,672.88 605.15,672.95 607.27,673.02 609.38,673.08 611.49,673.13 613.6,673.18 615.72,673.23 617.83,673.25 619.94,673.25 622.06,673.25 624.17,673.25 626.28,673.25 628.4,673.25 630.51,673.25 632.62,673.25 634.74,673.25 636.85,673.25 638.96,673.25 641.07,673.25 643.19,673.25 645.3,673.25 647.41,673.25 649.53,673.25 651.64,673.25 653.75,673.25 655.87,673.25 657.98,673.25 660.09,673.25 662.21,673.25 664.32,673.25 666.43,673.25 668.55,673.25 670.66,673.25 672.77,673.25 674.88,673.25 677,673.25 679.11,673.25 681.22,673.25 683.34,673.25 685.45,673.25" fill="none" stroke="#111" stroke-width="1.2"/>
<path d="M431.88 565V571.94M462.12 574.02V580.96M476.19 601.08V611.49" stroke="#222" stroke-width="1.1" fill="none"/>
<path d="M428.08 565h7.6M428.08 571.94h7.6M458.32 574.02h7.6M458.32 580.96h7.6M472.39 601.08h7.6M472.39 611.49h7.6" stroke="#666" stroke-width="1.4" fill="none"/>
<circle cx="431.88" cy="568.47" r="3.65" fill="#111"/>
<circle cx="462.12" cy="577.49" r="3.65" fill="#111"/>
<circle cx="476.19" cy="606.29" r="3.65" fill="#111"/>
<circle cx="495.27" cy="642.72" r="3.65" fill="#111"/>
<circle cx="525.51" cy="669.09" r="3.65" fill="#111"/>
<circle cx="558.66" cy="669.78" r="3.65" fill="#111"/>
<circle cx="588.9" cy="669.78" r="3.65" fill="#111"/>
<circle cx="622.06" cy="669.78" r="3.65" fill="#111"/>
<circle cx="652.3" cy="669.78" r="3.65" fill="#111"/>
<circle cx="685.45" cy="669.78" r="3.65" fill="#111"/>
<text x="483.9" y="715.4" class="x">log<tspan class="sub" dy="5.0"> 0</tspan><tspan dy="-5.0"> [Abiraterone], µM</tspan></text>
<path d="M763 0H583V1147Q518 1085 412.5 1023Q307 961 223 930V1104Q375 1175 489 1276Q603 1377 650 1466H763Z" transform="matrix(0.00615 0 0 -0.00615 506.32 720.40)" class="g1"/>
<text transform="translate(376.8,654.6) rotate(-90)" class="y">Relative Activity (%)</text>
<text x="655" y="520.9" class="l">H</text>
<rect x="417.95" y="735" width="265.85" height="177.15" fill="none" stroke="#111" stroke-width="1.9"/>
<path d="M430.61 912.15v-7.5M430.61 735v7.5M493.91 912.15v-7.5M493.91 735v7.5M557.21 912.15v-7.5M557.21 735v7.5M620.5 912.15v-7.5M620.5 735v7.5M417.95 908.99h7.5M683.8 908.99h-7.5M417.95 877.35h7.5M683.8 877.35h-7.5M417.95 845.72h7.5M683.8 845.72h-7.5M417.95 814.08h7.5M683.8 814.08h-7.5M417.95 782.45h7.5M683.8 782.45h-7.5M417.95 750.82h7.5M683.8 750.82h-7.5" stroke="#111" stroke-width="1.7" fill="none"/>
<text x="424.12" y="927.55" class="t">-2</text>
<text x="487.42" y="927.55" class="t">- </text><path d="M763 0H583V1147Q518 1085 412.5 1023Q307 961 223 930V1104Q375 1175 489 1276Q603 1377 650 1466H763Z" transform="matrix(0.00713 0 0 -0.00713 492.28 927.55)" class="g1"/>
<text x="553.15" y="927.55" class="t">0</text>
<text x="616.44" y="927.55" class="t"> </text><path d="M763 0H583V1147Q518 1085 412.5 1023Q307 961 223 930V1104Q375 1175 489 1276Q603 1377 650 1466H763Z" transform="matrix(0.00713 0 0 -0.00713 616.44 927.55)" class="g1"/>
<text x="679.74" y="927.55" class="t">2</text>
<text x="407.33" y="913.21" class="t">0</text>
<text x="399.21" y="881.58" class="t">20</text>
<text x="399.21" y="849.95" class="t">40</text>
<text x="399.21" y="818.31" class="t">60</text>
<text x="399.21" y="786.68" class="t">80</text>
<text x="391.09" y="755.04" class="t"> 00</text><path d="M763 0H583V1147Q518 1085 412.5 1023Q307 961 223 930V1104Q375 1175 489 1276Q603 1377 650 1466H763Z" transform="matrix(0.00713 0 0 -0.00713 391.09 755.04)" class="g1"/>
<polyline points="430.61,751.57 432.56,751.68 434.51,751.79 436.46,751.91 438.41,752.04 440.37,752.18 442.32,752.33 444.27,752.49 446.22,752.66 448.17,752.84 450.12,753.04 452.07,753.25 454.02,753.47 455.97,753.72 457.93,753.97 459.88,754.25 461.83,754.55 463.78,754.87 465.73,755.21 467.68,755.57 469.63,755.96 471.58,756.38 473.54,756.82 475.49,757.3 477.44,757.8 479.39,758.34 481.34,758.92 483.29,759.54 485.24,760.2 487.19,760.89 489.14,761.64 491.1,762.43 493.05,763.27 495,764.17 496.95,765.12 498.9,766.12 500.85,767.19 502.8,768.32 504.75,769.51 506.7,770.77 508.66,772.11 510.61,773.51 512.56,774.99 514.51,776.54 516.46,778.17 518.41,779.88 520.36,781.67 522.31,783.54 524.26,785.49 526.22,787.52 528.17,789.63 530.12,791.83 532.07,794.1 534.02,796.44 535.97,798.87 537.92,801.36 539.87,803.92 541.83,806.54 543.78,809.23 545.73,811.96 547.68,814.75 549.63,817.58 551.58,820.44 553.53,823.33 555.48,826.24 557.43,829.17 559.39,832.1 561.34,835.03 563.29,837.95 565.24,840.86 567.19,843.74 569.14,846.59 571.09,849.41 573.04,852.18 574.99,854.9 576.95,857.57 578.9,860.18 580.85,862.72 582.8,865.19 584.75,867.59 586.7,869.92 588.65,872.17 590.6,874.34 592.56,876.43 594.51,878.43 596.46,880.36 598.41,882.21 600.36,883.97 602.31,885.66 604.26,887.27 606.21,888.8 608.16,890.25 610.12,891.64 612.07,892.95 614.02,894.19 615.97,895.36 617.92,896.47 619.87,897.52 621.82,898.51 623.77,899.45 625.72,900.33 627.68,901.15 629.63,901.93 631.58,902.66 633.53,903.35 635.48,903.99 637.43,904.6 639.38,905.17 641.33,905.7 643.28,906.19 645.24,906.66 647.19,907.1 649.14,907.51 651.09,907.89 653.04,908.24 654.99,908.58 656.94,908.89 658.89,909.18 660.85,909.45 662.8,909.71 664.75,909.94" fill="none" stroke="#111" stroke-width="1.2"/>
<path d="M430.61 736.9V747.65M493.91 755.93V767.22M524.1 779.92V792.57M557.21 825.47V839.71M620.5 890.32V910.89" stroke="#222" stroke-width="1.1" fill="none"/>
<path d="M426.81 736.9h7.6M426.81 747.65h7.6M490.11 755.93h7.6M490.11 767.22h7.6M520.3 779.92h7.6M520.3 792.57h7.6M553.41 825.47h7.6M553.41 839.71h7.6M616.7 890.32h7.6M616.7 910.89h7.6" stroke="#666" stroke-width="1.4" fill="none"/>
<circle cx="430.61" cy="742.28" r="3.65" fill="#111"/>
<circle cx="460.8" cy="764.74" r="3.65" fill="#111"/>
<circle cx="493.91" cy="761.57" r="3.65" fill="#111"/>
<circle cx="524.1" cy="786.25" r="3.65" fill="#111"/>
<circle cx="557.21" cy="832.59" r="3.65" fill="#111"/>
<circle cx="587.4" cy="865.33" r="3.65" fill="#111"/>
<circle cx="620.5" cy="900.6" r="3.65" fill="#111"/>
<circle cx="645.82" cy="908.99" r="3.65" fill="#111"/>
<circle cx="664.75" cy="908.99" r="3.65" fill="#111"/>
<text x="491.5" y="954" class="x">log<tspan class="sub" dy="5.0"> 0</tspan><tspan dy="-5.0"> [Orteronel], µM</tspan></text>
<path d="M763 0H583V1147Q518 1085 412.5 1023Q307 961 223 930V1104Q375 1175 489 1276Q603 1377 650 1466H763Z" transform="matrix(0.00615 0 0 -0.00615 513.92 959.00)" class="g1"/>
<text transform="translate(373.5,893.2) rotate(-90)" class="y">Relative Activity (%)</text>
<text x="653" y="759.8" class="l">I</text>
<rect x="418.7" y="980" width="265.7" height="176.75" fill="none" stroke="#111" stroke-width="1.9"/>
<path d="M431.35 1156.75v-7.5M431.35 980v7.5M494.61 1156.75v-7.5M494.61 980v7.5M557.88 1156.75v-7.5M557.88 980v7.5M621.14 1156.75v-7.5M621.14 980v7.5M418.7 1153.28h7.5M684.4 1153.28h-7.5M418.7 1118.63h7.5M684.4 1118.63h-7.5M418.7 1083.97h7.5M684.4 1083.97h-7.5M418.7 1049.31h7.5M684.4 1049.31h-7.5M418.7 1014.66h7.5M684.4 1014.66h-7.5" stroke="#111" stroke-width="1.7" fill="none"/>
<text x="424.86" y="1172.15" class="t">-2</text>
<text x="488.12" y="1172.15" class="t">- </text><path d="M763 0H583V1147Q518 1085 412.5 1023Q307 961 223 930V1104Q375 1175 489 1276Q603 1377 650 1466H763Z" transform="matrix(0.00713 0 0 -0.00713 492.99 1172.15)" class="g1"/>
<text x="553.82" y="1172.15" class="t">0</text>
<text x="617.08" y="1172.15" class="t"> </text><path d="M763 0H583V1147Q518 1085 412.5 1023Q307 961 223 930V1104Q375 1175 489 1276Q603 1377 650 1466H763Z" transform="matrix(0.00713 0 0 -0.00713 617.08 1172.15)" class="g1"/>
<text x="680.34" y="1172.15" class="t">2</text>
<text x="408.08" y="1157.51" class="t">0</text>
<text x="399.96" y="1122.85" class="t">20</text>
<text x="399.96" y="1088.2" class="t">40</text>
<text x="399.96" y="1053.54" class="t">60</text>
<text x="399.96" y="1018.88" class="t">80</text>
<text x="391.84" y="984.23" class="t"> 00</text><path d="M763 0H583V1147Q518 1085 412.5 1023Q307 961 223 930V1104Q375 1175 489 1276Q603 1377 650 1466H763Z" transform="matrix(0.00713 0 0 -0.00713 391.84 984.23)" class="g1"/>
<polyline points="461.53,1009.08 463.39,1009.19 465.24,1009.31 467.1,1009.44 468.96,1009.57 470.81,1009.72 472.67,1009.87 474.53,1010.04 476.39,1010.21 478.24,1010.4 480.1,1010.59 481.96,1010.8 483.82,1011.03 485.67,1011.26 487.53,1011.52 489.39,1011.79 491.24,1012.07 493.1,1012.37 494.96,1012.69 496.82,1013.03 498.67,1013.4 500.53,1013.78 502.39,1014.19 504.25,1014.62 506.1,1015.08 507.96,1015.56 509.82,1016.07 511.67,1016.62 513.53,1017.19 515.39,1017.8 517.25,1018.44 519.1,1019.12 520.96,1019.84 522.82,1020.6 524.68,1021.4 526.53,1022.24 528.39,1023.12 530.25,1024.06 532.1,1025.04 533.96,1026.07 535.82,1027.15 537.68,1028.29 539.53,1029.47 541.39,1030.72 543.25,1032.02 545.11,1033.38 546.96,1034.8 548.82,1036.28 550.68,1037.82 552.53,1039.42 554.39,1041.08 556.25,1042.8 558.11,1044.59 559.96,1046.43 561.82,1048.33 563.68,1050.29 565.53,1052.31 567.39,1054.38 569.25,1056.51 571.11,1058.68 572.96,1060.9 574.82,1063.16 576.68,1065.47 578.54,1067.81 580.39,1070.18 582.25,1072.59 584.11,1075.01 585.96,1077.46 587.82,1079.92 589.68,1082.38 591.54,1084.85 593.39,1087.32 595.25,1089.79 597.11,1092.24 598.97,1094.68 600.82,1097.09 602.68,1099.48 604.54,1101.84 606.39,1104.17 608.25,1106.46 610.11,1108.7 611.97,1110.9 613.82,1113.05 615.68,1115.15 617.54,1117.2 619.4,1119.19 621.25,1121.13 623.11,1123 624.97,1124.82 626.82,1126.58 628.68,1128.27 630.54,1129.9 632.4,1131.48 634.25,1132.99 636.11,1134.44 637.97,1135.83 639.83,1137.17 641.68,1138.44 643.54,1139.66 645.4,1140.83 647.25,1141.94 649.11,1143 650.97,1144 652.83,1144.96 654.68,1145.87 656.54,1146.74 658.4,1147.56 660.26,1148.34 662.11,1149.08 663.97,1149.78 665.83,1150.44 667.68,1151.07 669.54,1151.66 671.4,1152.22 673.26,1152.75 675.11,1153.25 676.97,1153.73 678.83,1154.17 680.69,1154.59 682.54,1154.99 684.4,1155.36" fill="none" stroke="#111" stroke-width="1.2"/>
<path d="M461.53 999.58V1016.91M494.61 999.58V1016.91M524.79 1015.7V1039.96M588.05 1067.51V1076.17" stroke="#222" stroke-width="1.1" fill="none"/>
<path d="M457.73 999.58h7.6M457.73 1016.91h7.6M490.81 999.58h7.6M490.81 1016.91h7.6M520.99 1015.7h7.6M520.99 1039.96h7.6M584.25 1067.51h7.6M584.25 1076.17h7.6" stroke="#666" stroke-width="1.4" fill="none"/>
<circle cx="461.53" cy="1008.25" r="3.65" fill="#111"/>
<circle cx="494.61" cy="1008.25" r="3.65" fill="#111"/>
<circle cx="524.79" cy="1027.83" r="3.65" fill="#111"/>
<circle cx="557.88" cy="1046.89" r="3.65" fill="#111"/>
<circle cx="588.05" cy="1071.84" r="3.65" fill="#111"/>
<circle cx="621.14" cy="1129.02" r="3.65" fill="#111"/>
<circle cx="651.31" cy="1139.94" r="3.65" fill="#111"/>
<circle cx="665.36" cy="1153.28" r="3.65" fill="#111"/>
<circle cx="684.4" cy="1153.28" r="3.65" fill="#111"/>
<text x="484.7" y="1198.7" class="x">log<tspan class="sub" dy="5.0"> 0</tspan><tspan dy="-5.0"> [Seviteronel], µM</tspan></text>
<path d="M763 0H583V1147Q518 1085 412.5 1023Q307 961 223 930V1104Q375 1175 489 1276Q603 1377 650 1466H763Z" transform="matrix(0.00615 0 0 -0.00615 507.12 1203.70)" class="g1"/>
<text transform="translate(375.2,1137.9) rotate(-90)" class="y">Relative Activity (%)</text>
<text x="651.4" y="1008.2" class="l">J</text>
</svg>
</body></html>
